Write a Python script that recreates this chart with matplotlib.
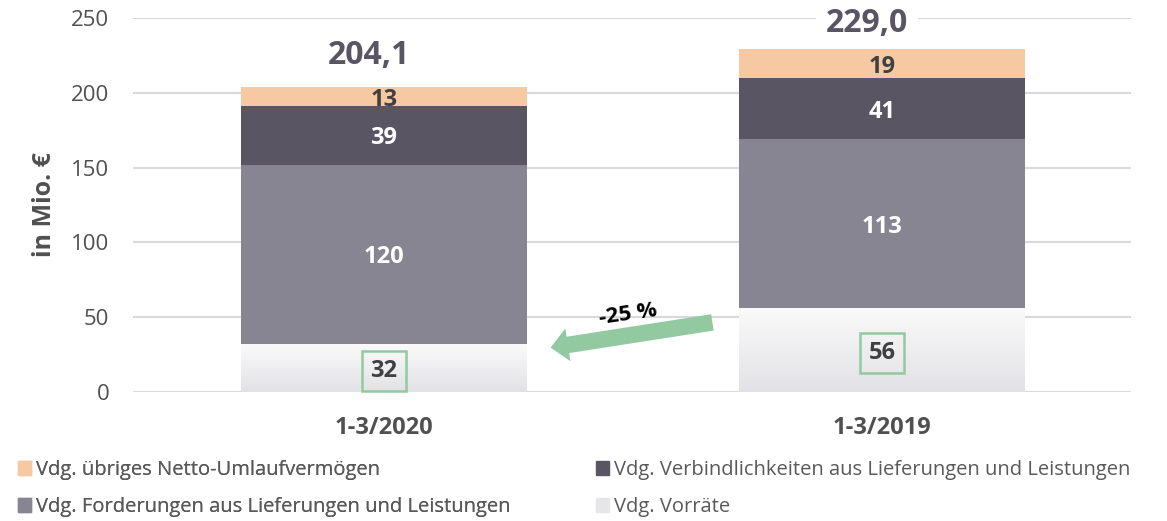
import numpy as np
import matplotlib
matplotlib.use("Agg")
import matplotlib.pyplot as plt
from matplotlib.patches import Patch
from matplotlib.colors import LinearSegmentedColormap

plt.rcParams['font.family'] = ['Open Sans', 'DejaVu Sans']

categories = ["1-3/2020", "1-3/2019"]
vorraete = [32, 56]
forderungen = [120, 113]
verbindlichkeiten = [39, 41]
uebriges = [13, 19]
totals = ["204,1", "229,0"]
change_label = "-25 %"
series_names = ["Vdg. übriges Netto-Umlaufvermögen",
                "Vdg. Forderungen aus Lieferungen und Leistungen",
                "Vdg. Verbindlichkeiten aus Lieferungen und Leistungen",
                "Vdg. Vorräte"]

c_orange = "#F6C9A3"
c_dark = "#595563"
c_mid = "#888593"
c_green = "#93C9A0"
c_text = "#595562"

fig = plt.figure(figsize=(11.67, 5.21), dpi=100)
ax = fig.add_axes([133 / 1167, 1 - 392 / 521, 998 / 1167, 374 / 521])

x = np.arange(len(categories))
w = 0.574
vor = np.array(vorraete, float)
fo = np.array(forderungen, float)
ve = np.array(verbindlichkeiten, float)
ub = np.array(uebriges, float)

ax.set_yticks(np.arange(0, 251, 50))
ax.grid(axis='y', color='#D9D9D9', linewidth=1.5, zorder=0)
ax.set_axisbelow(True)
for s in ax.spines.values():
    s.set_visible(False)
ax.tick_params(length=0, colors='#505050')
ax.tick_params(axis='y', pad=17, labelsize=16)
ax.tick_params(axis='x', pad=17, labelsize=17)
ax.set_xticks(x)
ax.set_xticklabels(categories, fontweight='bold')
ax.set_ylabel("in Mio. €", fontsize=18, fontweight='bold', color='#505050', labelpad=10)

# Vorräte with vertical gradient
b0 = ax.bar(x, vor, w, color='none', zorder=2)
grad = np.linspace(0, 1, 100).reshape(-1, 1)
cmap = LinearSegmentedColormap.from_list("g", ["#E2E1E5", "#FAFAFA"])
for rect in b0:
    x0 = rect.get_x(); h = rect.get_height()
    ax.imshow(grad, extent=[x0, x0 + w, 0, h], origin='lower', cmap=cmap,
              aspect='auto', zorder=2)
ax.set_xlim(-0.504, 1.5)
ax.set_ylim(0, 250)

ax.bar(x, fo, w, bottom=vor, color=c_mid, zorder=3)
ax.bar(x, ve, w, bottom=vor + fo, color=c_dark, zorder=3)
ax.bar(x, ub, w, bottom=vor + fo + ve, color=c_orange, zorder=3)

lab_fs = 17
va = 'center_baseline'
for i in range(len(x)):
    ax.text(x[i], vor[i] / 2, f"{int(vor[i])}", ha='center', va=va,
            fontsize=lab_fs, fontweight='bold', color='#404040', zorder=5,
            bbox=dict(boxstyle='square,pad=0.35', fc='none', ec=c_green, lw=1.8))
    ax.text(x[i], vor[i] + fo[i] / 2, f"{int(fo[i])}", ha='center', va=va,
            fontsize=lab_fs, fontweight='bold', color='white', zorder=5)
    ax.text(x[i], vor[i] + fo[i] + ve[i] / 2, f"{int(ve[i])}", ha='center', va=va,
            fontsize=lab_fs, fontweight='bold', color='white', zorder=5)
    ax.text(x[i], vor[i] + fo[i] + ve[i] + ub[i] / 2, f"{int(ub[i])}", ha='center', va=va,
            fontsize=lab_fs, fontweight='bold', color='#404040', zorder=5)
    top = vor[i] + fo[i] + ve[i] + ub[i]
    ax.text(x[i] - 0.03, min(top + 21, 246.5), totals[i], ha='center', va='center', fontsize=23,
            fontweight='bold', color=c_text, zorder=5, clip_on=False,
            bbox=dict(boxstyle='square,pad=0.3', fc='white', ec='none'))

# Arrow from 2019 to 2020
ax.annotate("", xy=(0.329, 29.4), xytext=(0.665, 46.8),
            arrowprops=dict(arrowstyle="simple,head_length=0.9,head_width=1.7,tail_width=0.85",
                            color=c_green, lw=0, mutation_scale=14), zorder=6)
ax.text(0.49, 52, change_label, ha='center', va='center', rotation=8,
        fontsize=16, fontweight='bold', color='black', zorder=6)

leg_kw = dict(loc='upper left', frameon=False, fontsize=14.5, borderpad=0,
              handlelength=0.65, handleheight=0.65, handletextpad=0.25,
              labelspacing=0.85, labelcolor='#595959')
leg1 = fig.legend([Patch(color=c_orange), Patch(color=c_mid)],
                  [series_names[0], series_names[1]],
                  bbox_to_anchor=(8 / 1167, 1 - 450 / 521), **leg_kw)
fig.add_artist(leg1)
leg2 = fig.legend([Patch(color=c_dark), Patch(color='#E6E5E8')],
                  [series_names[2], series_names[3]],
                  bbox_to_anchor=(586 / 1167, 1 - 450 / 521), **leg_kw)

fig.savefig("out.png", dpi=100)
